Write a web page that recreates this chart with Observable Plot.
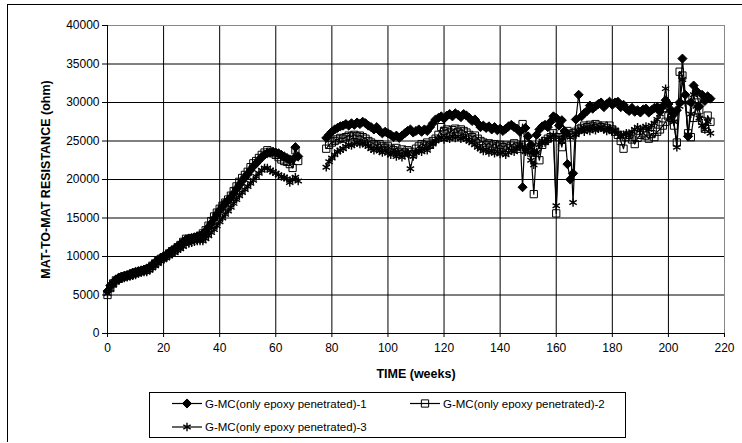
<!DOCTYPE html>
<html><head><meta charset="utf-8">
<script src="https://cdn.jsdelivr.net/npm/d3@7"></script>
<script src="https://cdn.jsdelivr.net/npm/@observablehq/plot@0.6"></script>
<style>
body{margin:0;background:#fff}
#chart{position:relative;width:742px;height:443px}
</style></head><body><div id="chart"></div>
<script>
const weeks = [
0,1,2,3,4,5,6,7,8,9,10,11,12,13,14,15,16,17,18,19,20,21,22,23,24,25,26,27,28,29,
30,31,32,33,34,35,36,37,38,39,40,41,42,43,44,45,46,47,48,49,50,51,52,53,54,55,56,57,58,59,
60,61,62,63,64,65,66,67,68,
78,79,80,81,82,83,84,85,86,87,88,89,90,91,92,93,94,95,96,97,98,99,100,101,102,103,104,105,106,107,
108,109,110,111,112,113,114,115,116,117,118,119,120,121,122,123,124,125,126,127,128,129,130,131,132,133,134,135,136,137,
138,139,140,141,142,143,144,145,146,147,148,149,150,151,152,153,154,155,156,157,158,159,160,161,162,163,164,165,166,167,
168,169,170,171,172,173,174,175,176,177,178,179,180,181,182,183,184,185,186,187,188,189,190,191,192,193,194,195,196,197,
198,199,200,201,202,203,204,205,206,207,208,209,210,211,212,213,214,215];

const series1 = [
5500,6200,6600,7000,7200,7400,7500,7600,7700,7900,
8000,8100,8200,8300,8400,8600,8900,9200,9500,9800,
10000,10200,10500,10800,11000,11300,11600,11900,12200,12300,
12400,12500,12600,12700,12900,13300,13800,14300,14900,15500,
16000,16500,17000,17300,17700,18200,18800,19300,19800,20300,
20700,21200,21700,22100,22500,22900,23200,23400,23500,23600,
23500,23400,23200,23000,22800,22600,22600,24200,23000,
25400,25800,26200,26500,26700,26900,27000,27200,27000,27300,
27100,27400,27200,27500,27300,27000,26800,26500,26800,26300,
26000,26200,26000,25800,25500,25700,25400,25700,26000,26300,
26500,26100,26300,26500,26200,26500,26300,26800,27300,27800,
28000,28200,27900,28300,28500,28200,28600,28400,28100,28500,
28300,28000,27600,27800,27300,26800,27000,26700,26900,26500,
26800,26400,26600,26300,26600,26900,27100,26800,26600,26200,
19000,26700,25600,24500,23500,25800,26500,26900,27100,26800,
27500,28200,28000,27000,27700,26300,22000,20000,20800,27800,
31000,28200,28600,28900,29600,29200,29500,29800,30000,29400,
29800,30100,29700,30000,30100,29400,29700,29200,28900,29300,
28800,29000,28700,29100,29200,28700,29000,29300,29400,28800,
29500,30300,29800,29000,28500,29000,30000,35700,31000,25600,
30000,32200,31500,29500,31000,30200,30800,30500];

const series2 = [
5000,5900,6500,6900,7100,7300,7400,7500,7600,7800,
7900,8000,8100,8200,8300,8500,8800,9100,9400,9700,
9900,10100,10400,10700,10900,11200,11500,11900,12300,12300,
12400,12400,12500,12700,13000,13400,14000,14600,15200,15700,
16200,16600,17000,17400,17900,18500,19100,19700,20200,20600,
21000,21600,22100,22400,22800,23200,23500,23800,23600,23400,
23200,22900,22600,22400,22300,22000,21500,23800,22400,
24000,24500,24800,25000,25200,25400,25300,25500,25700,25600,
25800,25600,25700,25500,25300,25000,24800,24600,24400,24600,
24300,24100,24300,24000,23800,24100,23600,23900,23500,23800,
23600,23300,24000,24300,24600,24400,24800,24500,25000,25300,
25800,26800,26300,26500,26100,26400,26600,26200,26500,26300,
26100,25800,25500,25700,25300,25000,24800,24500,24700,24400,
24600,24300,24500,24200,24400,24100,24400,24700,24300,24000,
27200,24500,23800,23500,18100,24000,22500,24500,25000,25300,
25500,26000,15600,25500,24200,26000,26300,25800,26000,26200,
26500,26700,27000,26800,27100,26900,27200,27000,26800,27000,
26700,27000,26500,26200,25800,25000,24000,25500,25800,25200,
24600,25400,25800,26000,25700,25300,25900,25500,26200,26500,
27000,27500,28200,28000,27000,24800,34000,33500,30500,26000,
25500,28000,30000,29000,27600,26600,28300,27500];

const series3 = [
5200,5800,6300,6700,6900,7100,7200,7300,7400,7500,
7600,7800,7900,8000,8000,8200,8500,8800,9100,9400,
9600,9800,10100,10300,10500,10800,11000,11300,11600,11700,
11800,11900,12000,12000,12000,12300,12700,13100,13500,14000,
14500,15000,15500,15900,16400,16900,17400,17900,18300,18700,
19100,19500,19900,20400,20800,21200,21500,21500,21200,21000,
20800,20600,20400,20300,20100,19600,20000,20300,19800,
21600,22300,22800,23200,23600,23800,24000,24300,24500,24400,
24600,24800,24600,24700,24500,24300,24000,23800,24000,23700,
23500,23800,23400,23200,23500,23000,23300,22900,23200,23400,
21400,23000,23500,23800,23600,24000,23800,24300,24600,25000,
25300,25500,25200,25500,25300,25600,25400,25600,25300,25500,
25200,25000,24800,24500,24200,24000,23700,23900,23500,23700,
23400,23600,23300,23500,23200,23500,23800,23600,24000,24500,
24200,23600,24000,22500,21900,23500,24500,25000,24800,25200,
25500,25800,16600,25500,25000,25800,26000,25500,17000,25800,
26300,26500,26200,26600,26300,26700,26400,26600,26800,26500,
26300,26600,26200,26400,26000,25600,25800,26000,25700,26200,
26500,26800,26400,26700,26900,26500,27000,27300,27800,28500,
29500,31800,29000,28000,27500,24200,29500,33000,30000,25800,
28500,31000,29500,28000,27000,26500,27500,26000];

const seriesNames = [
  "G-MC(only epoxy penetrated)-1",
  "G-MC(only epoxy penetrated)-2",
  "G-MC(only epoxy penetrated)-3"
];
const xTicks = [0,20,40,60,80,100,120,140,160,180,200,220];
const yTicks = [0,5000,10000,15000,20000,25000,30000,35000,40000];
const xTitle = "TIME (weeks)";
const yTitle = "MAT-TO-MAT RESISTANCE (ohm)";

const allSeries = [series1, series2, series3];
const tables = allSeries.map((vals, i) => vals.map((v, j) => ({
  week: weeks[j], value: v, series: seriesNames[i], seg: weeks[j] < 73 ? "a" : "b"
})));

const font = "'Liberation Sans', Arial, Helvetica, sans-serif";
const symbols = [
  {symbol: "diamond2", r: 4.1, fill: "#000", stroke: "#000", sw: 1},
  {symbol: "square", r: 4.1, fill: "none", stroke: "#000", sw: 1},
  {symbol: "asterisk", r: 4.0, fill: "none", stroke: "#000", sw: 1.4}
];
const d3Symbols = [d3.symbolDiamond2, d3.symbolSquare, d3.symbolAsterisk];

const seriesMarks = [];
tables.forEach((t, i) => {
  seriesMarks.push(Plot.line(t, {x: "week", y: "value", z: "seg", stroke: "#000", strokeWidth: 1.2}));
  seriesMarks.push(Plot.dot(t, {x: "week", y: "value", symbol: () => symbols[i].symbol, r: symbols[i].r,
    fill: symbols[i].fill, stroke: symbols[i].stroke, strokeWidth: symbols[i].sw}));
});

const chart = Plot.plot({
  width: 742, height: 443,
  marginLeft: 107, marginRight: 18, marginTop: 25, marginBottom: 110,
  style: {fontFamily: font, fontSize: "12px", color: "#000", background: "#fff"},
  x: {domain: [0, 220], label: null},
  y: {domain: [0, 40000], label: null},
  symbol: {type: "identity"},
  marks: [
    Plot.gridX(xTicks.filter(d => d > 0 && d < 220), {stroke: "#000", strokeOpacity: 1}),
    Plot.gridY(yTicks.filter(d => d > 0 && d < 40000), {stroke: "#000", strokeOpacity: 1}),
    Plot.ruleY([40000], {stroke: "#888"}),
    Plot.ruleX([220], {stroke: "#888"}),
    Plot.axisX(xTicks, {tickSize: 4, tickPadding: 6, tickFormat: d => String(d), label: null, fontSize: 12}),
    Plot.axisY(yTicks, {tickSize: 5, tickPadding: 3, tickFormat: d => String(d), label: null, fontSize: 12}),
    Plot.ruleX([0], {stroke: "#000"}),
    Plot.ruleY([0], {stroke: "#000"}),
    ...seriesMarks,
    Plot.text([xTitle], {frameAnchor: "bottom", dy: 44, text: d => d, fontWeight: "bold", fontSize: 12.5}),
    Plot.text([yTitle], {frameAnchor: "left", dx: -62, rotate: -90, textAnchor: "middle", text: d => d, fontWeight: "bold", fontSize: 12.5})
  ]
});

document.getElementById("chart").appendChild(chart);

// chart-area border (top and left edges visible) and legend
const svg = d3.select(chart);
svg.append("line").attr("x1", 7).attr("x2", 742).attr("y1", 4.5).attr("y2", 4.5).attr("stroke", "#000");
svg.append("line").attr("x1", 7.5).attr("x2", 7.5).attr("y1", 4).attr("y2", 442).attr("stroke", "#000");

const lg = svg.append("g").attr("font-family", font).attr("font-size", "11.5px").attr("text-anchor", "start");
lg.append("rect").attr("x", 149.5).attr("y", 392.5).attr("width", 476).attr("height", 45)
  .attr("fill", "#fff").attr("stroke", "#000");
const legendPos = [[172, 403.5], [410, 403.5], [172, 427]];
seriesNames.forEach((name, i) => {
  const [lx, ly] = legendPos[i];
  const g = lg.append("g");
  g.append("line").attr("x1", lx).attr("x2", lx + 30).attr("y1", ly).attr("y2", ly).attr("stroke", "#000").attr("stroke-width", 1.2);
  g.append("path").attr("transform", `translate(${lx + 15},${ly})`)
    .attr("d", d3.symbol(d3Symbols[i], Math.PI * symbols[i].r * symbols[i].r)())
    .attr("fill", symbols[i].fill).attr("stroke", symbols[i].stroke).attr("stroke-width", symbols[i].sw);
  g.append("text").attr("x", lx + 33).attr("y", ly).attr("dy", "0.35em").attr("text-anchor", "start").text(name);
});
</script></body></html>
